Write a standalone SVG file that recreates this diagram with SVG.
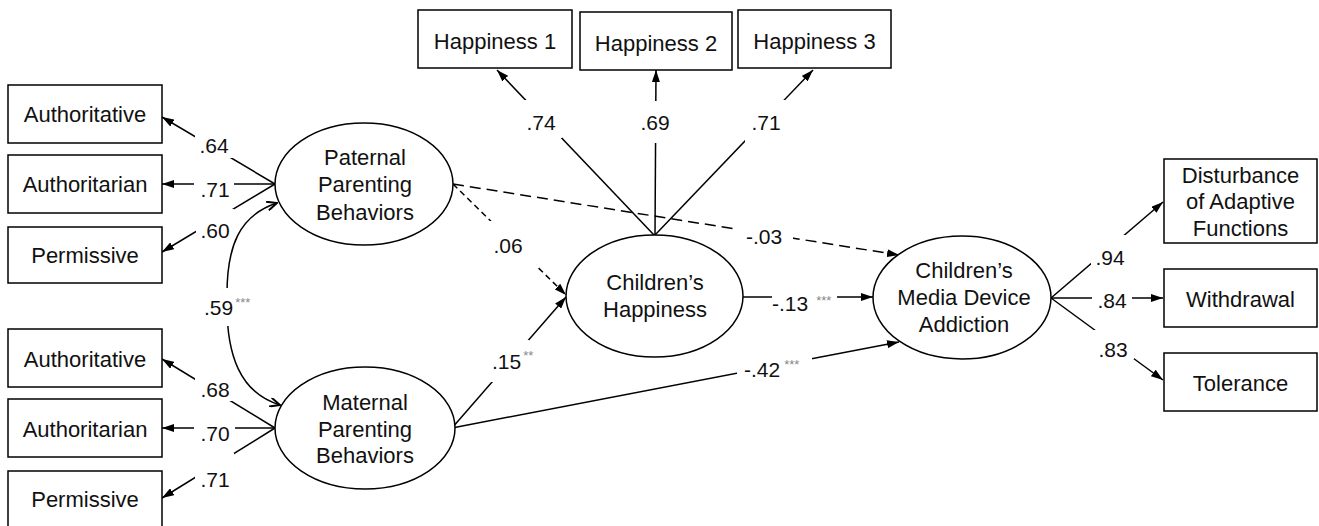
<svg xmlns="http://www.w3.org/2000/svg" width="1319" height="526" viewBox="0 0 1319 526">
<style>
  .box{fill:#fff;stroke:#000;stroke-width:1.5}
  .lat{fill:#fff;stroke:#000;stroke-width:1.5}
  .t{font-family:"Liberation Sans",Arial,sans-serif;font-size:22px;fill:#111;text-anchor:middle}
  .c{fill:none;stroke:#000;stroke-width:1.5}
  .d1{stroke-dasharray:6 4}
  .d2{stroke-dasharray:11 6}
  .bg{fill:#fff;stroke:none}
  .lb{font-family:"Liberation Sans",Arial,sans-serif;font-size:21px;fill:#111}
  .m{text-anchor:middle}
  .st{font-size:13px;fill:#888}
</style>
<defs>
  <marker id="ah" viewBox="0 0 12 8" refX="12" refY="4" markerWidth="12" markerHeight="8" markerUnits="userSpaceOnUse" orient="auto">
    <path d="M0,0 L12,4 L0,8 z" fill="#000"/>
  </marker>
  <marker id="cv" viewBox="0 0 12 10" refX="11" refY="5" markerWidth="12" markerHeight="10" markerUnits="userSpaceOnUse" orient="auto-start-reverse">
    <path d="M1,0.5 L11,5 L1,9.5" fill="none" stroke="#000" stroke-width="2"/>
  </marker>
</defs>

<g id="connectors">
  <!-- paternal indicators -->
  <path class="c" d="M275,184 L162,117" marker-end="url(#ah)"/>
  <path class="c" d="M275,184 L162,184" marker-end="url(#ah)"/>
  <path class="c" d="M275,184 L162,252" marker-end="url(#ah)"/>
  <!-- maternal indicators -->
  <path class="c" d="M275,428 L162,359" marker-end="url(#ah)"/>
  <path class="c" d="M275,428 L162,428" marker-end="url(#ah)"/>
  <path class="c" d="M275,428 L162,498" marker-end="url(#ah)"/>
  <!-- covariance -->
  <path class="c" d="M277,203 C240,215 226,245 227,300 C226,355 240,393 280,405" marker-start="url(#cv)" marker-end="url(#cv)"/>
  <!-- happiness indicators -->
  <path class="c" d="M654,235 L497,70" marker-end="url(#ah)"/>
  <path class="c" d="M655,235 L656,70" marker-end="url(#ah)"/>
  <path class="c" d="M655,235 L813,70" marker-end="url(#ah)"/>
  <!-- structural paths -->
  <path class="c d1" d="M453,184 L566,295" marker-end="url(#ah)"/>
  <path class="c d2" d="M453,184 L899,255" marker-end="url(#ah)"/>
  <path class="c" d="M452,428 L566,297" marker-end="url(#ah)"/>
  <path class="c" d="M452,428 L899,342" marker-end="url(#ah)"/>
  <path class="c" d="M743,297 L873,297" marker-end="url(#ah)"/>
  <!-- addiction indicators -->
  <path class="c" d="M1051,298 L1163,202" marker-end="url(#ah)"/>
  <path class="c" d="M1051,298 L1163,298" marker-end="url(#ah)"/>
  <path class="c" d="M1051,298 L1163,380" marker-end="url(#ah)"/>

  <!-- label backgrounds (line gaps) -->
  <rect class="bg" x="195" y="132" width="38" height="26"/>
  <rect class="bg" x="194" y="176" width="40" height="24"/>
  <rect class="bg" x="196" y="209" width="38" height="31"/>
  <rect class="bg" x="195" y="377" width="39" height="24"/>
  <rect class="bg" x="194" y="420" width="41" height="24"/>
  <rect class="bg" x="195" y="453" width="39" height="36"/>
  <rect class="bg" x="203" y="288" width="52" height="38"/>
  <rect class="bg" x="524" y="100" width="38" height="38"/>
  <rect class="bg" x="638" y="101" width="36" height="42"/>
  <rect class="bg" x="745" y="100" width="40" height="42"/>
  <rect class="bg" x="489" y="221" width="47" height="46"/>
  <rect class="bg" x="735" y="226" width="58" height="22"/>
  <rect class="bg" x="491" y="340" width="38" height="42"/>
  <rect class="bg" x="737" y="355" width="75" height="25"/>
  <rect class="bg" x="772" y="287" width="65" height="26"/>
  <rect class="bg" x="1091" y="235" width="35" height="31"/>
  <rect class="bg" x="1092" y="290" width="40" height="20"/>
  <rect class="bg" x="1094" y="330" width="40" height="29"/>

  <!-- labels -->
  <text class="lb m" x="214" y="153">.64</text>
  <text class="lb m" x="215" y="197">.71</text>
  <text class="lb m" x="215" y="238">.60</text>
  <text class="lb m" x="215" y="397">.68</text>
  <text class="lb m" x="215" y="441">.70</text>
  <text class="lb m" x="215" y="487">.71</text>
  <text class="lb" x="204" y="315">.59<tspan class="st" dx="2" dy="-8">***</tspan></text>
  <text class="lb m" x="541" y="130">.74</text>
  <text class="lb m" x="655" y="130">.69</text>
  <text class="lb m" x="766" y="130">.71</text>
  <text class="lb m" x="508" y="253">.06</text>
  <text class="lb m" x="764" y="244">-.03</text>
  <text class="lb" x="492" y="369">.15<tspan class="st" dx="2" dy="-9">**</tspan></text>
  <text class="lb" x="744" y="377">-.42<tspan class="st" dx="4" dy="-8">***</tspan></text>
  <text class="lb" x="772" y="311">-.13<tspan class="st" dx="8" dy="-6">***</tspan></text>
  <text class="lb m" x="1110" y="265">.94</text>
  <text class="lb m" x="1112" y="308">.84</text>
  <text class="lb m" x="1113" y="357">.83</text>
</g>

<g id="pat-authoritative"><rect class="box" x="8" y="85" width="154" height="58"/><text class="t" x="85" y="122">Authoritative</text></g>
<g id="pat-authoritarian"><rect class="box" x="8" y="155" width="154" height="58"/><text class="t" x="85" y="192">Authoritarian</text></g>
<g id="pat-permissive"><rect class="box" x="8" y="227" width="154" height="56"/><text class="t" x="85" y="263">Permissive</text></g>
<g id="mat-authoritative"><rect class="box" x="8" y="329" width="154" height="58"/><text class="t" x="85" y="367">Authoritative</text></g>
<g id="mat-authoritarian"><rect class="box" x="8" y="399" width="154" height="58"/><text class="t" x="85" y="437">Authoritarian</text></g>
<g id="mat-permissive"><rect class="box" x="8" y="471" width="154" height="60"/><text class="t" x="85" y="507">Permissive</text></g>

<g id="paternal"><ellipse class="lat" cx="364" cy="184" rx="89" ry="61"/>
  <text class="t" x="365" y="165">Paternal</text><text class="t" x="365" y="192">Parenting</text><text class="t" x="365" y="220">Behaviors</text></g>
<g id="maternal"><ellipse class="lat" cx="365" cy="428" rx="90" ry="61"/>
  <text class="t" x="365" y="410">Maternal</text><text class="t" x="365" y="437">Parenting</text><text class="t" x="365" y="463">Behaviors</text></g>

<g id="happiness1"><rect class="box" x="418" y="10" width="154" height="58"/><text class="t" x="495" y="49">Happiness 1</text></g>
<g id="happiness2"><rect class="box" x="580" y="12" width="152" height="58"/><text class="t" x="656" y="51">Happiness 2</text></g>
<g id="happiness3"><rect class="box" x="738" y="10" width="153" height="58"/><text class="t" x="814.5" y="49">Happiness 3</text></g>

<g id="children-happiness"><ellipse class="lat" cx="654.5" cy="296" rx="88.5" ry="61"/>
  <text class="t" x="655" y="290">Children’s</text><text class="t" x="655" y="317">Happiness</text></g>

<g id="media-addiction"><ellipse class="lat" cx="962" cy="297.5" rx="89" ry="61.5"/>
  <text class="t" x="964" y="278">Children’s</text><text class="t" x="964" y="305">Media Device</text><text class="t" x="964" y="332">Addiction</text></g>

<g id="disturbance"><rect class="box" x="1164" y="159" width="153" height="84"/>
  <text class="t" x="1240.5" y="183">Disturbance</text><text class="t" x="1240.5" y="209">of Adaptive</text><text class="t" x="1240.5" y="236">Functions</text></g>
<g id="withdrawal"><rect class="box" x="1164" y="269" width="153" height="58"/><text class="t" x="1240.5" y="307">Withdrawal</text></g>
<g id="tolerance"><rect class="box" x="1164" y="353" width="153" height="58"/><text class="t" x="1240.5" y="391">Tolerance</text></g>
</svg>
